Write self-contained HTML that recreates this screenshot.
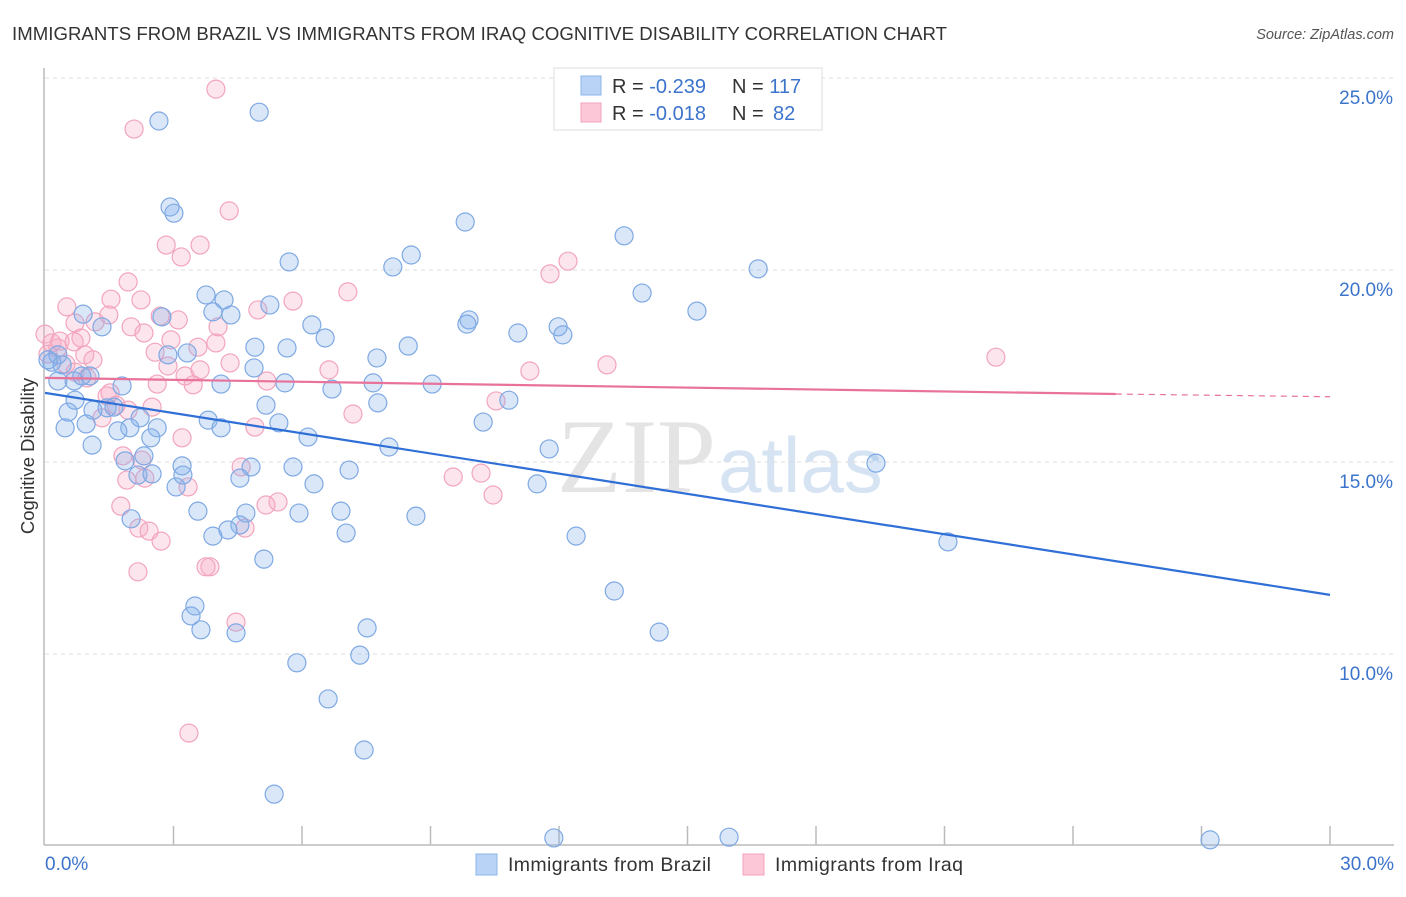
<!DOCTYPE html>
<html><head><meta charset="utf-8"><style>
body{margin:0;background:#fff;width:1406px;height:892px;overflow:hidden;font-family:"Liberation Sans",sans-serif}
</style></head><body>
<svg width="1406" height="892" xmlns="http://www.w3.org/2000/svg">
<text x="12" y="40" font-size="18.6" fill="#333" textLength="935">IMMIGRANTS FROM BRAZIL VS IMMIGRANTS FROM IRAQ COGNITIVE DISABILITY CORRELATION CHART</text>
<text x="1394" y="39" font-size="14.5" fill="#555" font-style="italic" text-anchor="end">Source: ZipAtlas.com</text>
<text x="716" y="492" font-size="106" fill="#e4e4e4" text-anchor="end" font-family="Liberation Serif">ZIP</text>
<text x="718" y="492" font-size="78" fill="#d6e3f3">atlas</text>
<g id="grid"></g>
<g id="axes"></g>
<g id="pts"></g>
<g id="trends"></g>
<text x="34" y="456" font-size="18.5" fill="#333" text-anchor="middle" transform="rotate(-90 34 456)">Cognitive Disability</text>
<g>
<rect x="554" y="68" width="268" height="62" fill="#fff" stroke="#ddd"/>
<rect x="581" y="76" width="20" height="19" fill="#b8d3f5" stroke="#8db4e8"/>
<rect x="581" y="103" width="20" height="19" fill="#fcc7d6" stroke="#f0a3bb"/>
<text x="612" y="93" font-size="20" fill="#333">R = <tspan fill="#3c74cc">-0.239</tspan><tspan x="732">N = </tspan><tspan fill="#3c74cc">117</tspan></text>
<text x="612" y="120" font-size="20" fill="#333">R = <tspan fill="#3c74cc">-0.018</tspan><tspan x="732">N = </tspan><tspan fill="#3c74cc" x="773">82</tspan></text>
</g>
<g>
<rect x="476" y="854" width="21" height="21" fill="#b8d3f5" stroke="#8db4e8"/>
<text x="508" y="871" font-size="19.5" fill="#333" textLength="203">Immigrants from Brazil</text>
<rect x="743" y="854" width="21" height="21" fill="#fcc7d6" stroke="#f0a3bb"/>
<text x="775" y="871" font-size="19.5" fill="#333" textLength="188">Immigrants from Iraq</text>
</g>
</svg>
<script>
const yTicks=[10,15,20,25];
const yTickLabels=["10.0%","15.0%","20.0%","25.0%"];
const xTickLabels=["0.0%","30.0%"];
const brazilX=[2.66,5.00,2.92,3.01,9.81,13.52,8.55,5.70,8.12,16.65,3.76,4.18,13.94,5.25,3.92,4.34,15.22,0.89,2.73,9.90,9.85,11.98,6.23,11.04,1.33,12.09,6.54,8.48,4.90,5.65,2.87,3.32,7.75,0.30,0.16,0.40,4.88,1.05,0.30,0.68,1.80,4.11,5.60,7.66,9.04,6.70,0.70,10.83,7.77,5.16,1.45,1.12,1.61,0.54,2.22,3.81,10.23,0.96,5.46,0.47,1.98,2.62,1.70,4.11,2.47,6.14,1.10,8.03,11.77,2.31,1.87,3.20,4.81,5.79,7.10,19.40,3.22,2.17,2.50,4.55,6.28,3.06,11.49,3.57,6.91,5.93,8.66,2.01,4.69,4.55,4.27,3.92,7.03,12.40,21.08,5.11,3.50,13.29,3.41,3.64,4.46,7.52,14.34,7.35,5.88,6.61,7.45,5.35,11.88,15.97,27.20,0.86,0.07];
const brazilY=[23.88,24.11,21.64,21.48,21.25,20.89,20.39,20.21,20.08,20.03,19.35,19.22,19.40,19.09,18.91,18.83,18.93,18.85,18.78,18.70,18.59,18.52,18.57,18.36,18.52,18.31,18.23,18.02,17.99,17.97,17.79,17.84,17.71,17.79,17.60,17.53,17.45,17.24,17.11,17.11,16.98,17.03,17.06,17.06,17.03,16.90,16.61,16.61,16.54,16.48,16.41,16.35,16.43,16.30,16.15,16.09,16.04,15.99,16.02,15.89,15.89,15.89,15.81,15.89,15.63,15.65,15.44,15.39,15.34,15.16,15.03,14.90,14.87,14.87,14.79,14.97,14.66,14.66,14.69,14.58,14.43,14.35,14.43,13.72,13.72,13.67,13.59,13.52,13.67,13.36,13.23,13.07,13.15,13.07,12.92,12.47,11.25,11.64,10.99,10.63,10.55,10.68,10.57,9.97,9.77,8.83,7.50,6.35,5.21,5.23,5.16,17.24,17.66];
const iraqX=[3.99,2.08,4.30,2.83,3.62,3.18,12.21,11.79,1.94,7.07,5.79,1.54,0.51,4.97,1.17,1.49,0.70,2.69,2.01,4.04,0,0.16,0.84,2.94,2.31,0.93,2.57,3.57,3.99,4.32,13.12,22.20,0.07,0.49,6.63,11.32,0.70,3.27,3.62,5.18,3.46,2.62,0.98,1.45,10.53,1.66,2.50,1.94,1.33,7.19,4.90,3.20,1.82,2.26,4.58,9.53,10.18,2.33,1.91,10.46,3.34,5.44,1.77,5.16,4.67,2.19,2.43,2.71,3.85,3.76,2.17,4.46,3.36,0.30,0.35,1.52,2.87,0.68,3.11,2.24,1.12];
const iraqY=[24.71,23.67,21.54,20.65,20.65,20.34,20.23,19.90,19.69,19.43,19.19,19.24,19.04,18.96,18.65,18.83,18.62,18.80,18.52,18.52,18.33,18.10,18.23,18.18,18.36,17.79,17.86,17.99,18.10,17.58,17.53,17.73,17.81,17.55,17.40,17.37,17.34,17.24,17.40,17.11,17.01,17.03,17.19,16.72,16.59,16.48,16.43,16.35,16.15,16.25,15.91,15.63,15.16,15.05,14.87,14.61,14.71,14.58,14.53,14.14,14.35,13.96,13.85,13.88,13.28,13.28,13.20,12.94,12.27,12.27,12.14,10.83,7.94,17.97,18.15,16.80,17.50,18.13,18.70,19.22,17.66];
const brazilTrend=[16.8,11.54];
const iraqTrend=[17.19,16.77,16.7];
const X0=45,X1=1330,Y10=654,PY=38.4;
const xs=v=>X0+(X1-X0)*v/30;
const ys=v=>Y10-(v-10)*PY;
const NS="http://www.w3.org/2000/svg";
function mk(t,a,p){const e=document.createElementNS(NS,t);for(const k in a)e.setAttribute(k,a[k]);p.appendChild(e);return e;}
const grid=document.getElementById('grid'),axes=document.getElementById('axes');
yTicks.forEach((t,i)=>{
 const g=mk('line',{x1:X0,x2:1394,y1:ys(t),y2:ys(t),stroke:'#ddd','stroke-dasharray':'4,4'},grid);
 
 
 const l=mk('text',{x:1393,y:ys(t)+26,'font-size':19,fill:'#3c74cc','text-anchor':'end'},axes);
 l.textContent=yTickLabels[i];
 
 
});
const al=mk('line',{x1:44,x2:44,y1:68,y2:845,stroke:'#bbb','stroke-width':1.5},axes);


const bl=mk('line',{x1:44,x2:1394,y1:845,y2:845,stroke:'#bbb','stroke-width':1.5},axes);


for(let i=1;i<=10;i++){const tk=mk('line',{x1:xs(i*3),x2:xs(i*3),y1:826,y2:845,stroke:'#bbb','stroke-width':1.5},axes);
 
 }
[[0,'start',45],[30,'end',1394]].forEach((d,i)=>{const t=mk('text',{x:d[2],y:870,'font-size':19,fill:'#3c74cc','text-anchor':d[1]},axes);t.textContent=xTickLabels[i];
 
 });
const pts=document.getElementById('pts');
iraqX.forEach((x,i)=>{const c=mk('circle',{cx:xs(x),cy:ys(iraqY[i]),r:9,fill:'rgba(248,170,195,0.3)',stroke:'#f2a5bd','stroke-width':1.2},pts);
 
 });
brazilX.forEach((x,i)=>{const c=mk('circle',{cx:xs(x),cy:ys(brazilY[i]),r:9,fill:'rgba(130,175,235,0.3)',stroke:'#7fa9e3','stroke-width':1.2},pts);
 
 });
const tr=document.getElementById('trends');
const t1=mk('line',{x1:xs(0),y1:ys(brazilTrend[0]),x2:xs(30),y2:ys(brazilTrend[1]),stroke:'#2f6fd6','stroke-width':2.2},tr);


const t2=mk('line',{x1:xs(0),y1:ys(iraqTrend[0]),x2:xs(25),y2:ys(iraqTrend[1]),stroke:'#e8729a','stroke-width':2.2},tr);


const t3=mk('line',{x1:xs(25),y1:ys(iraqTrend[1]),x2:xs(30),y2:ys(iraqTrend[2]),stroke:'#e8729a','stroke-width':1.2,'stroke-dasharray':'6,5'},tr);


</script>
</body></html>
